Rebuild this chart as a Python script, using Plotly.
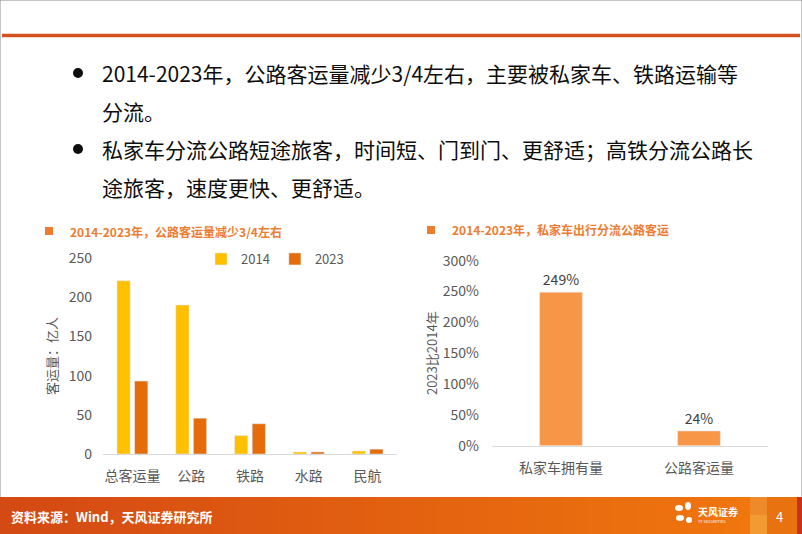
import plotly.graph_objects as go

W, H = 802, 534
FONT = "Noto Sans CJK SC, Noto Sans, sans-serif"
INK = "#0d0d0d"
TICK = "#595959"
AXIS = "#D9D9D9"
ORANGE = "#ED7D31"
C2014 = "#FFC000"
C2023 = "#E46C0A"
CBAR = "#F79646"

# 左图：客运量（亿人）
modes = ["总客运量", "公路", "铁路", "水路", "民航"]
vol_2014 = [220.9, 190.1, 23.6, 2.6, 3.9]
vol_2023 = [93.0, 45.7, 38.6, 2.6, 6.2]

# 右图：2023比2014年
growth_items = ["私家车拥有量", "公路客运量"]
growth_pct = [2.49, 0.24]

bullet_lines = [
    "2014-2023年，公路客运量减少3/4左右，主要被私家车、铁路运输等",
    "分流。",
    "私家车分流公路短途旅客，时间短、门到门、更舒适；高铁分流公路长",
    "途旅客，速度更快、更舒适。",
]
bullet_starts = [0, 2]

left_title = "2014-2023年，公路客运量减少3/4左右"
right_title = "2014-2023年，私家车出行分流公路客运"
source = "资料来源：Wind，天风证券研究所"


def px(x):
    return x / W


def py(y):
    return 1 - y / H


fig = go.Figure()
fig.add_trace(go.Bar(x=modes, y=vol_2014, name="2014", marker_color=C2014,
                     xaxis="x", yaxis="y"))
fig.add_trace(go.Bar(x=modes, y=vol_2023, name="2023", marker_color=C2023,
                     xaxis="x", yaxis="y"))
fig.add_trace(go.Bar(x=growth_items, y=growth_pct, marker_color=CBAR, width=0.31,
                     xaxis="x2", yaxis="y2", showlegend=False,
                     texttemplate="%{y:.0%}", textposition="outside",
                     textfont=dict(size=14, color="#404040"), cliponaxis=False))

shapes = []
annotations = []

# 页面边框和顶部橙线
shapes.append(dict(type="rect", xref="paper", yref="paper", x0=0, x1=1, y0=0, y1=1,
                   line=dict(color="#8c8c8c", width=1), fillcolor="rgba(0,0,0,0)"))
shapes.append(dict(type="line", xref="paper", yref="paper", x0=px(2), x1=px(800),
                   y0=py(35.5), y1=py(35.5), line=dict(color="#D4521F", width=3.5)))

# 底部渐变橙色条
n = 60
for i in range(n):
    t = i / (n - 1)
    r = int(212 + (240 - 212) * t)
    g = int(74 + (118 - 74) * t)
    b = int(20 + (14 - 20) * t)
    shapes.append(dict(type="rect", xref="paper", yref="paper",
                       x0=px(750 * i / n), x1=px(750 * (i + 1) / n + 0.5),
                       y0=0, y1=py(497), line=dict(width=0),
                       fillcolor=f"rgb({r},{g},{b})"))
for x0, x1, y0, y1, c in [(750, 767, 497, 515, "#EE8A2A"), (750, 767, 515, 534, "#F29B33"),
                          (767, 797, 497, 534, "#E8720F"), (797, 802, 497, 534, "#C8321A")]:
    shapes.append(dict(type="rect", xref="paper", yref="paper", x0=px(x0), x1=px(x1),
                       y0=py(y1), y1=py(y0), line=dict(width=0), fillcolor=c))
# logo 花瓣
for cx, cy, rx, ry in [(679, 508, 4, 3), (688, 506, 3, 4), (680, 518, 4, 3), (689, 520, 3, 3)]:
    shapes.append(dict(type="circle", xref="paper", yref="paper",
                       x0=px(cx - rx), x1=px(cx + rx), y0=py(cy + ry), y1=py(cy - ry),
                       line=dict(width=0), fillcolor="white"))
annotations.append(dict(text="<b>天风证券</b>", x=px(696), y=py(511), xref="paper", yref="paper",
                        xanchor="left", yanchor="middle", showarrow=False,
                        font=dict(size=10, color="white", family=FONT)))
annotations.append(dict(text="TF SECURITIES", x=px(696), y=py(521), xref="paper", yref="paper",
                        xanchor="left", yanchor="middle", showarrow=False,
                        font=dict(size=4, color="white", family=FONT)))
annotations.append(dict(text="4", x=px(779), y=py(516), xref="paper", yref="paper",
                        xanchor="center", yanchor="middle", showarrow=False,
                        font=dict(size=13, color="white", family=FONT)))
annotations.append(dict(text=f"<b>{source}</b>", x=px(9), y=py(516), xref="paper", yref="paper",
                        xanchor="left", yanchor="middle", showarrow=False,
                        font=dict(size=13, color="white", family=FONT)))

# 要点文字
line_y = [73, 111, 149, 187]
for i, (txt, y) in enumerate(zip(bullet_lines, line_y)):
    annotations.append(dict(text=txt, x=px(100), y=py(y), xref="paper", yref="paper",
                            xanchor="left", yanchor="middle", showarrow=False,
                            font=dict(size=21, color=INK, family=FONT)))
    if i in bullet_starts:
        shapes.append(dict(type="circle", xref="paper", yref="paper",
                           x0=px(73), x1=px(83), y0=py(y + 5), y1=py(y - 5),
                           line=dict(width=0), fillcolor=INK))

# 图表标题
for sx, tx, y, txt in [(49, 68, 231, left_title), (431, 450, 230, right_title)]:
    shapes.append(dict(type="rect", xref="paper", yref="paper",
                       x0=px(sx - 4), x1=px(sx + 4), y0=py(y + 4), y1=py(y - 4),
                       line=dict(width=0), fillcolor=ORANGE))
    annotations.append(dict(text=f"<b>{txt}</b>", x=px(tx), y=py(y), xref="paper", yref="paper",
                            xanchor="left", yanchor="middle", showarrow=False,
                            font=dict(size=12, color=ORANGE, family=FONT)))

axis_common = dict(showgrid=False, zeroline=False, ticks="", automargin=False,
                   tickfont=dict(size=14, color=TICK, family=FONT))

fig.update_layout(
    width=W, height=H,
    margin=dict(l=0, r=0, t=0, b=0, pad=0, autoexpand=False),
    paper_bgcolor="white", plot_bgcolor="white",
    font=dict(family=FONT, color=TICK),
    barmode="group", bargap=0.40, bargroupgap=0.25,
    showlegend=True,
    legend=dict(orientation="h", x=px(201), y=py(259), xanchor="left", yanchor="middle",
                font=dict(size=13, color=TICK, family=FONT), bgcolor="rgba(0,0,0,0)",
                itemwidth=30, traceorder="normal"),
    xaxis=dict(domain=[px(103), px(397)], anchor="y", showline=True, linecolor=AXIS,
               linewidth=1, ticklabelstandoff=9, **axis_common),
    yaxis=dict(domain=[py(454), py(258)], anchor="x", range=[0, 250], dtick=50,
               showline=False, ticklabelstandoff=10,
               title=dict(text="客运量：亿人", font=dict(size=13, color=TICK, family=FONT),
                          standoff=8),
               **axis_common),
    xaxis2=dict(domain=[px(492), px(768)], anchor="y2", showline=True, linecolor=AXIS,
                linewidth=1, ticklabelstandoff=9, **axis_common),
    yaxis2=dict(domain=[py(445.7), py(260.7)], anchor="x2", range=[0, 3], dtick=0.5,
                tickformat=".0%", showline=False, ticklabelstandoff=12,
                title=dict(text="2023比2014年", font=dict(size=13, color=TICK, family=FONT),
                           standoff=2),
                **axis_common),
    shapes=shapes,
    annotations=annotations,
)

# 页面默认有 8px 边距，去掉后图正好占满窗口
fig.write_html("out.html", config={"displayModeBar": False},
               post_script="document.body.style.margin='0';")
